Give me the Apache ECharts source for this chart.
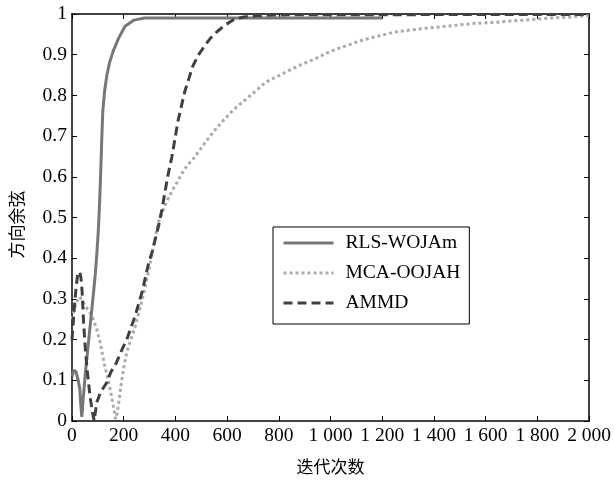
<!DOCTYPE html>
<html>
<head>
<meta charset="utf-8">
<script src="https://cdn.jsdelivr.net/npm/echarts@6/dist/echarts.min.js"></script>
<style>html,body{margin:0;padding:0;background:#fff;}#c{width:614px;height:480px;}</style>
</head>
<body>
<div id="c"></div>
<script>
var seriesNames = ['RLS-WOJAm', 'MCA-OOJAH', 'AMMD'];
var xTitle = '迭代次数';
var yTitle = '方向余弦';

var rlsX = [0,8,16,24,30,34,38,44,52,60,68,76,84,90,96,102,107,111,115,119,126,135,145,160,180,205,240,280,320,400,600,800,1000,1200];
var rlsY = [0.11,0.125,0.12,0.1,0.08,0.04,0.01,0.06,0.12,0.17,0.22,0.27,0.32,0.36,0.41,0.47,0.54,0.61,0.69,0.76,0.81,0.85,0.88,0.91,0.94,0.97,0.985,0.99,0.99,0.99,0.99,0.99,0.99,0.99];

var mcaX = [0,15,30,45,60,76,96,110,125,140,153,162,168,175,182,190,200,212,228,247,272,297,315,335,360,386,405,436,470,499,540,580,625,690,751,820,877,940,1003,1060,1129,1180,1243,1300,1369,1450,1558,1650,1747,1850,1936,2000];
var mcaY = [0.25,0.29,0.305,0.29,0.275,0.26,0.225,0.19,0.14,0.1,0.06,0.03,0.005,0.02,0.05,0.09,0.13,0.17,0.2,0.238,0.3,0.37,0.43,0.49,0.53,0.565,0.585,0.62,0.645,0.67,0.705,0.735,0.765,0.8,0.833,0.855,0.873,0.89,0.909,0.922,0.937,0.945,0.955,0.96,0.965,0.97,0.977,0.98,0.985,0.99,0.993,0.996];

var ammdX = [0,8,16,22,30,35,39,45,52,58,64,70,77,82,86,90,96,110,134,150,171,195,212,245,272,297,310,335,348,370,386,400,411,436,468,490,512,535,562,590,625,660,688,750,850,1000,1200,1500,1800,2000];
var ammdY = [0.2,0.27,0.33,0.36,0.367,0.35,0.32,0.24,0.174,0.13,0.094,0.06,0.03,0.012,0,0.02,0.046,0.07,0.094,0.12,0.142,0.178,0.2,0.26,0.319,0.39,0.415,0.48,0.52,0.6,0.648,0.7,0.74,0.809,0.873,0.9,0.921,0.94,0.957,0.972,0.986,0.992,0.995,0.997,0.998,0.998,0.998,0.999,0.999,0.999];

var xTicks = {min: 0, max: 2000, step: 200};
var yTicks = {min: 0, max: 1, step: 0.1};

function pairs(xs, ys) { return xs.map(function (x, i) { return [x, ys[i]]; }); }
function fmtX(v) {
  var s = String(Math.round(v));
  if (s.length > 3) s = s.slice(0, s.length - 3) + ' ' + s.slice(s.length - 3);
  return s;
}
function fmtY(v) { return String(Math.round(v * 10) / 10); }

var serif = 'Liberation Serif, Times New Roman, serif';
var cjk = 'Noto Sans CJK SC, sans-serif';

var chart = echarts.init(document.getElementById('c'));
var tickIn = {show: true, inside: true, length: 5, lineStyle: {color: '#000', width: 1}};
chart.setOption({
  animation: false,
  backgroundColor: '#fff',
  grid: {left: 68, right: 17, top: 14, bottom: 51, containLabel: false},
  legend: {
    left: 273, top: 227, orient: 'vertical',
    data: seriesNames,
    backgroundColor: '#fff',
    borderColor: '#000', borderWidth: 1,
    padding: [6, 9, 11, 9],
    itemWidth: 50, itemHeight: 14, itemGap: 10,
    itemStyle: {opacity: 0, color: 'rgba(0,0,0,0)', borderWidth: 0},
    lineStyle: {width: 3},
    textStyle: {fontFamily: serif, fontSize: 19.5, color: '#000', padding: [0, 0, 0, 7]}
  },
  xAxis: [{
    type: 'value', position: 'bottom', min: xTicks.min, max: xTicks.max, interval: xTicks.step,
    axisLine: {show: true, onZero: false, lineStyle: {color: '#444', width: 2}},
    axisTick: tickIn, splitLine: {show: false},
    axisLabel: {formatter: fmtX, fontFamily: serif, fontSize: 19.5, color: '#000', margin: 5},
    name: xTitle, nameLocation: 'middle', nameGap: 37,
    nameTextStyle: {fontFamily: cjk, fontSize: 17, color: '#000'}
  }, {
    type: 'value', position: 'top', min: xTicks.min, max: xTicks.max, interval: xTicks.step,
    axisLine: {show: true, onZero: false, lineStyle: {color: '#000', width: 1.5}},
    axisTick: tickIn, axisLabel: {show: false}, splitLine: {show: false}
  }],
  yAxis: [{
    type: 'value', position: 'left', min: yTicks.min, max: yTicks.max, interval: yTicks.step,
    axisLine: {show: true, onZero: false, lineStyle: {color: '#444', width: 2}},
    axisTick: tickIn, splitLine: {show: false},
    axisLabel: {formatter: fmtY, fontFamily: serif, fontSize: 19.5, color: '#000', margin: 5},
    name: yTitle, nameLocation: 'middle', nameGap: 47, nameRotate: 90,
    nameTextStyle: {fontFamily: cjk, fontSize: 17, color: '#000', padding: [0, 14, 0, 0]}
  }, {
    type: 'value', position: 'right', min: yTicks.min, max: yTicks.max, interval: yTicks.step,
    axisLine: {show: true, onZero: false, lineStyle: {color: '#000', width: 1.5}},
    axisTick: tickIn, axisLabel: {show: false}, splitLine: {show: false}
  }],
  series: [{
    name: seriesNames[0], type: 'line', data: pairs(rlsX, rlsY), symbol: 'none',
    xAxisIndex: 0, yAxisIndex: 0, z: 3,
    lineStyle: {color: '#777', width: 3, type: 'solid'}, itemStyle: {color: '#777'}
  }, {
    name: seriesNames[1], type: 'line', data: pairs(mcaX, mcaY), symbol: 'none',
    xAxisIndex: 0, yAxisIndex: 0, z: 2,
    lineStyle: {color: '#aaa', width: 3, type: [3, 3]}, itemStyle: {color: '#aaa'}
  }, {
    name: seriesNames[2], type: 'line', data: pairs(ammdX, ammdY), symbol: 'none',
    xAxisIndex: 0, yAxisIndex: 0, z: 4,
    lineStyle: {color: '#404040', width: 3, type: [9, 5]}, itemStyle: {color: '#404040'}
  }]
});
</script>
</body>
</html>
